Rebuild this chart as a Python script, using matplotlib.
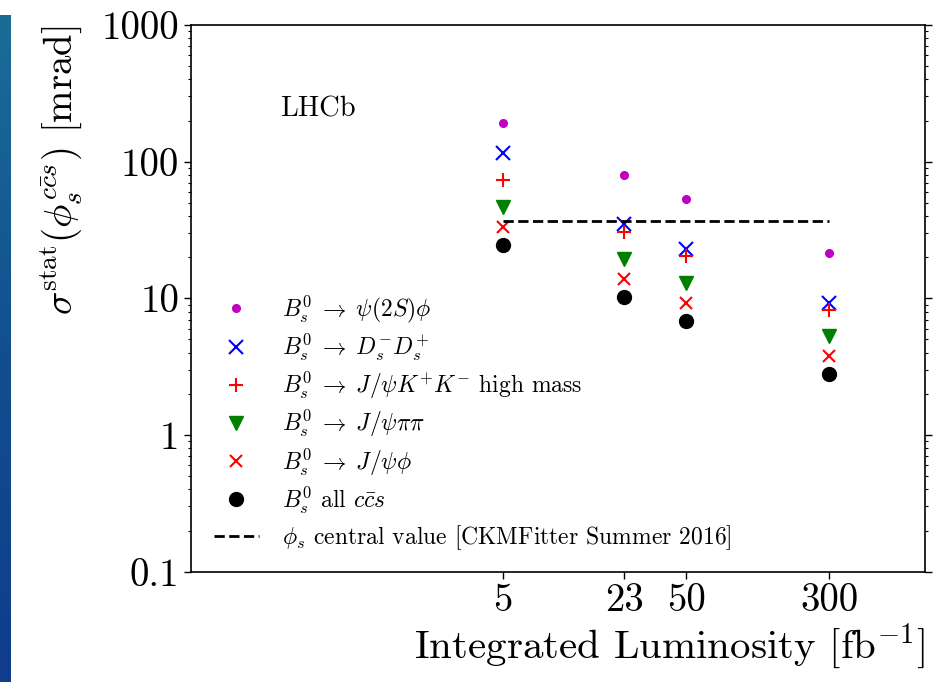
import numpy as np
import matplotlib
matplotlib.use("Agg")
import matplotlib.pyplot as plt
from matplotlib.ticker import FixedLocator, FixedFormatter, LogLocator, NullLocator, NullFormatter
from matplotlib.colors import LinearSegmentedColormap

plt.rcParams['font.family'] = 'serif'
plt.rcParams['font.serif'] = ['cmr10']
plt.rcParams['mathtext.fontset'] = 'cm'
plt.rcParams['axes.unicode_minus'] = False
plt.rcParams['axes.formatter.use_mathtext'] = True

# ---- data ----
lumi = [5, 23, 50, 300]
lumi_labels = ['5', '23', '50', '300']
psi2s_phi = [191, 80, 53.5, 21.6]
ds_ds = [116, 34.8, 22.8, 9.3]
jpsi_kk_high = [73.4, 30.4, 20.4, 8.2]
jpsi_pipi = [46.8, 19.5, 12.9, 5.3]
jpsi_phi = [33.2, 13.9, 9.3, 3.78]
all_ccs = [24.5, 10.3, 6.86, 2.79]
phis_central = 37.0
phis_range = [5, 300]
ytick_vals = [0.1, 1, 10, 100, 1000]
ytick_labels = ['0.1', '1', '10', '100', '1000']

W, H = 951, 682
fig = plt.figure(figsize=(W / 100, H / 100), dpi=100)

# blue strip on left (screenshot background)
sax = fig.add_axes([0, 0, 11 / W, (H - 15) / H])
cmap = LinearSegmentedColormap.from_list('strip', ['#1b6d98', '#124f8f', '#0f3c8c'])
sax.imshow(np.linspace(0, 1, 256).reshape(-1, 1), aspect='auto', cmap=cmap)
sax.axis('off')

ax = fig.add_axes([191 / W, (H - 571.7) / H, (925 - 191) / W, (571.7 - 25) / H])

arrow = r'\;\rightarrow\;'
ax.plot(lumi, psi2s_phi, 'o', color='m', markersize=5.5, linestyle='none',
        label=r'$B_s^0' + arrow + r'\psi(2S)\phi$')
ax.plot(lumi, ds_ds, 'x', color='b', markersize=10, markeredgewidth=1.5, linestyle='none',
        label=r'$B_s^0' + arrow + r'D_s^{-}D_s^{+}$')
ax.plot(lumi, jpsi_kk_high, '+', color='r', markersize=9.5, markeredgewidth=1.5, linestyle='none',
        label=r'$B_s^0' + arrow + r'J/\psi K^{+}K^{-}$ high mass')
ax.plot(lumi, jpsi_pipi, 'v', color='g', markersize=10, linestyle='none',
        label=r'$B_s^0' + arrow + r'J/\psi\pi\pi$')
ax.plot(lumi, jpsi_phi, 'x', color='r', markersize=9, markeredgewidth=1.5, linestyle='none',
        label=r'$B_s^0' + arrow + r'J/\psi\phi$')
ax.plot(lumi, all_ccs, 'o', color='k', markersize=10, linestyle='none',
        label=r'$B_s^0$ all $c\bar{c}s$')
ax.plot(phis_range, [phis_central, phis_central], '--', color='k', linewidth=2,
        label=r'$\phi_s$ central value [CKMFitter Summer 2016]')

ax.set_xscale('log')
ax.set_yscale('log')
ax.set_xlim(0.1, 1000)
ax.set_ylim(0.1, 1000)

ax.xaxis.set_major_locator(FixedLocator(lumi))
ax.xaxis.set_major_formatter(FixedFormatter(lumi_labels))
ax.xaxis.set_minor_locator(NullLocator())
ax.yaxis.set_major_locator(FixedLocator(ytick_vals))
ax.yaxis.set_major_formatter(FixedFormatter(ytick_labels))
ax.yaxis.set_minor_locator(LogLocator(base=10, subs=np.arange(2, 10)))
ax.yaxis.set_minor_formatter(NullFormatter())

ax.tick_params(axis='both', which='major', labelsize=28, direction='out', length=5, width=1)
ax.tick_params(axis='y', which='minor', direction='out', length=2.5, width=0.8)
ax.tick_params(axis='y', which='both', left=True, right=True)
ax.tick_params(axis='x', which='both', top=False, bottom=True)
for s in ax.spines.values():
    s.set_linewidth(1.2)

ax.set_xlabel(r'Integrated Luminosity [fb$^{-1}$]', fontsize=29.5, loc='right', labelpad=2)
ax.set_ylabel(r'$\sigma^{\rm stat}(\phi_s^{c\bar{c}s})$ [mrad]', fontsize=28, loc='top', labelpad=13)

ax.text(0.121, 0.845, 'LHCb', transform=ax.transAxes, fontsize=20.5, ha='left', va='center')

leg = ax.legend(loc='lower left', bbox_to_anchor=(23 / 734, 20 / 546.7), frameon=False,
                fontsize=17, borderpad=0, borderaxespad=0, handlelength=1.9,
                handletextpad=1.0, labelspacing=0.3, numpoints=1)

fig.savefig('out.png', dpi=100)
